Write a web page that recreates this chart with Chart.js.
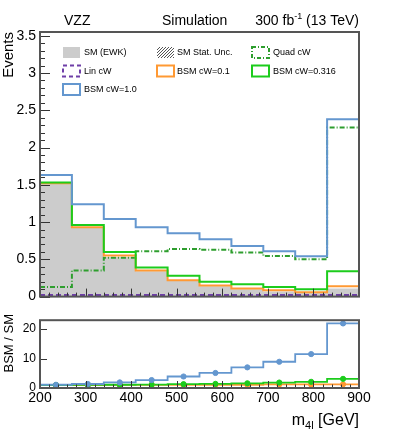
<!DOCTYPE html>
<html>
<head>
<meta charset="UTF-8">
<title>VZZ m4l</title>
<script src="https://cdn.jsdelivr.net/npm/chart.js"></script>
<style>
  html, body { margin: 0; padding: 0; background: #fff; }
  #wrap { position: relative; width: 399px; height: 442px; }
  #top { position: absolute; left: 0; top: 0; width: 399px; height: 309px; }
  #bot { position: absolute; left: 0; top: 309px; width: 399px; height: 133px; background: #fff; }
</style>
</head>
<body>
<div id="wrap">
  <canvas id="top" width="399" height="309"></canvas>
  <canvas id="bot" width="399" height="133"></canvas>
</div>
<script>
// bin edges of m4l [GeV]
const binEdges = [200, 270, 340, 410, 480, 550, 620, 690, 760, 830, 900];

// events per bin (top panel)
const smEwk   = [1.51, 0.92, 0.53, 0.34, 0.21, 0.14, 0.10, 0.07, 0.05, 0.11];
const linCW   = [0.02, 0.02, 0.02, 0.02, 0.02, 0.02, 0.02, 0.02, 0.02, 0.02];
const quadCW  = [0.13, 0.35, 0.52, 0.61, 0.64, 0.63, 0.59, 0.545, 0.50, 2.27];
const bsm01   = [1.52, 0.93, 0.55, 0.35, 0.22, 0.15, 0.11, 0.085, 0.06, 0.14];
const bsm0316 = [1.53, 0.96, 0.60, 0.39, 0.28, 0.20, 0.165, 0.13, 0.10, 0.34];
const bsm10   = [1.63, 1.24, 1.04, 0.93, 0.85, 0.77, 0.68, 0.61, 0.54, 2.38];

// BSM / SM ratio per bin (bottom panel)
const ratio01   = [1.0, 1.0, 1.04, 1.04, 1.05, 1.07, 1.1, 1.2, 1.2, 1.25];
const ratio0316 = [1.0, 1.05, 1.1, 1.15, 1.3, 1.4, 1.6, 1.85, 2.1, 3.1];
const ratio10   = [1.1, 1.35, 1.9, 2.7, 3.9, 5.1, 7.0, 8.9, 11.5, 21.9];

// tick labels
const yTicksTop = [0, 0.5, 1, 1.5, 2, 2.5, 3, 3.5];
const yTicksRatio = [0, 10, 20];
const xTicks = [200, 300, 400, 500, 600, 700, 800, 900];

const FONT = "'Liberation Sans', Arial, Helvetica, sans-serif";
Chart.defaults.font.family = FONT;
Chart.defaults.color = '#000';

const BLUE = '#6497cf', ORANGE = '#ff9933', GREEN = '#1ccc1c',
      QGREEN = '#2e9e2e', PURPLE = '#6f3fa8', GRAY = '#cccccc';

// step histogram points: one point per left edge plus the last right edge
function hist(vals) {
  const pts = vals.map((v, i) => ({ x: binEdges[i], y: v }));
  pts.push({ x: binEdges[vals.length], y: vals[vals.length - 1] });
  return pts;
}
function centers(vals) {
  return vals.map((v, i) => ({ x: (binEdges[i] + binEdges[i + 1]) / 2, y: v }));
}

// inward ROOT-like ticks and frame
function drawFrame(chart, cfg) {
  const { ctx, chartArea: a, scales: { x, y } } = chart;
  ctx.save();
  ctx.strokeStyle = '#333';
  ctx.lineWidth = 1;
  ctx.beginPath();
  const step = cfg.yMinor || cfg.yMajor;
  const ny = Math.floor((y.max - y.min) / step + 1e-6);
  for (let i = 0; i <= ny; i++) {
    const v = y.min + i * step;
    const major = Math.abs(v / cfg.yMajor - Math.round(v / cfg.yMajor)) < 1e-6;
    const len = major ? cfg.yLen : cfg.yLen / 2;
    const py = Math.round(y.getPixelForValue(v)) + 0.5;
    ctx.moveTo(a.left, py); ctx.lineTo(a.left + len, py);
  }
  const nx = Math.round((x.max - x.min) / cfg.xMinor);
  for (let i = 0; i <= nx; i++) {
    const v = x.min + i * cfg.xMinor;
    const major = (v % cfg.xMajor) === 0;
    const len = major ? cfg.xLen : cfg.xLen / 2;
    const px = Math.round(x.getPixelForValue(v)) + 0.5;
    ctx.moveTo(px, a.bottom); ctx.lineTo(px, a.bottom - len);
  }
  ctx.stroke();
  ctx.lineWidth = 2;
  ctx.strokeStyle = '#555';
  ctx.strokeRect(a.left, a.top, a.width, a.height);
  ctx.restore();
}

const legendItems = [
  { col: 0, row: 0, label: 'SM (EWK)', kind: 'fill', color: GRAY },
  { col: 1, row: 0, label: 'SM Stat. Unc.', kind: 'hatch' },
  { col: 2, row: 0, label: 'Quad cW', kind: 'box', color: QGREEN, dash: [4, 2, 1, 2] },
  { col: 0, row: 1, label: 'Lin cW', kind: 'box', color: PURPLE, dash: [4, 3] },
  { col: 1, row: 1, label: 'BSM cW=0.1', kind: 'box', color: ORANGE },
  { col: 2, row: 1, label: 'BSM cW=0.316', kind: 'box', color: GREEN },
  { col: 0, row: 2, label: 'BSM cW=1.0', kind: 'box', color: BLUE }
];

const topDecor = {
  id: 'topDecor',
  afterDatasetsDraw(chart) {
    drawFrame(chart, { yMajor: 0.5, yMinor: 0.1, yLen: 10, xMajor: 100, xMinor: 20, xLen: 8 });
  },
  afterDraw(chart) {
    const ctx = chart.ctx;
    ctx.save();
    ctx.fillStyle = '#000';
    ctx.textBaseline = 'alphabetic';
    ctx.font = '14px ' + FONT;
    ctx.textAlign = 'left';
    ctx.fillText('VZZ', 64, 25);
    ctx.fillText('Simulation', 162, 25);
    // 300 fb^-1 (13 TeV), right aligned
    const p1 = '300 fb', p3 = ' (13 TeV)';
    ctx.font = '14px ' + FONT; const w1 = ctx.measureText(p1).width, w3 = ctx.measureText(p3).width;
    ctx.font = '9px ' + FONT; const w2 = ctx.measureText('-1').width;
    let xs = 359 - (w1 + w2 + w3);
    ctx.font = '14px ' + FONT; ctx.fillText(p1, xs, 25);
    ctx.font = '9px ' + FONT; ctx.fillText('-1', xs + w1, 19);
    ctx.font = '14px ' + FONT; ctx.fillText(p3, xs + w1 + w2, 25);

    // y title
    ctx.save();
    ctx.translate(13, 32);
    ctx.rotate(-Math.PI / 2);
    ctx.textAlign = 'right';
    ctx.font = '15px ' + FONT;
    ctx.fillText('Events', 0, 0);
    ctx.restore();

    // legend
    const boxX = [63, 157, 252], textX = [84, 177, 273], rowY = [52.5, 71, 89.5];
    ctx.font = '9px ' + FONT;
    ctx.textBaseline = 'middle';
    legendItems.forEach(it => {
      const bx = boxX[it.col], cy = rowY[it.row], bw = 17, bh = 11, by = cy - bh / 2;
      if (it.kind === 'fill') {
        ctx.fillStyle = it.color;
        ctx.fillRect(bx, by, bw, bh);
      } else if (it.kind === 'hatch') {
        ctx.save();
        ctx.beginPath(); ctx.rect(bx, by, bw, bh); ctx.clip();
        ctx.strokeStyle = '#555'; ctx.lineWidth = 1;
        ctx.beginPath();
        for (let k = -bh; k < bw; k += 3) {
          ctx.moveTo(bx + k, by + bh); ctx.lineTo(bx + k + bh, by);
        }
        ctx.stroke();
        ctx.restore();
      } else {
        ctx.save();
        ctx.strokeStyle = it.color; ctx.lineWidth = 2;
        ctx.setLineDash(it.dash || []);
        ctx.strokeRect(bx, by, bw, bh);
        ctx.restore();
      }
      ctx.fillStyle = '#000';
      ctx.fillText(it.label, textX[it.col], cy + 0.5);
    });
    ctx.restore();
  }
};

const botDecor = {
  id: 'botDecor',
  afterDatasetsDraw(chart) {
    drawFrame(chart, { yMajor: 10, yMinor: 0, yLen: 7, xMajor: 100, xMinor: 20, xLen: 7 });
  },
  afterDraw(chart) {
    const ctx = chart.ctx;
    ctx.save();
    ctx.fillStyle = '#000';
    ctx.textBaseline = 'alphabetic';
    // y title
    ctx.save();
    ctx.translate(13, 5);
    ctx.rotate(-Math.PI / 2);
    ctx.textAlign = 'right';
    ctx.font = '13px ' + FONT;
    ctx.fillText('BSM / SM', 0, 0);
    ctx.restore();
    // x title m_4l [GeV]
    ctx.textAlign = 'left';
    ctx.font = '16px ' + FONT; const wm = ctx.measureText('m').width, wg = ctx.measureText(' [GeV]').width;
    ctx.font = '11px ' + FONT; const ws = ctx.measureText('4l').width;
    const x0 = 359 - (wm + ws + wg), base = 116;
    ctx.font = '16px ' + FONT; ctx.fillText('m', x0, base);
    ctx.font = '11px ' + FONT; ctx.fillText('4l', x0 + wm, base + 4);
    ctx.font = '16px ' + FONT; ctx.fillText(' [GeV]', x0 + wm + ws, base);
    ctx.restore();
  }
};

function stepLine(data, color, extra) {
  return Object.assign({
    data: hist(data), borderColor: color, borderWidth: 2, stepped: 'before',
    pointRadius: 0, fill: false
  }, extra || {});
}

const tickLabel = v => String(v);

new Chart(document.getElementById('top'), {
  type: 'line',
  data: {
    datasets: [
      stepLine(linCW, PURPLE, { borderDash: [5, 3] }),
      stepLine(bsm10, BLUE),
      stepLine(bsm0316, GREEN),
      stepLine(bsm01, ORANGE),
      stepLine(quadCW, QGREEN, { borderDash: [5, 2, 1, 2] }),
      stepLine(smEwk, GRAY, { borderWidth: 0, backgroundColor: GRAY, fill: 'origin' })
    ]
  },
  options: {
    responsive: false, animation: false,
    layout: { padding: { left: 0, right: 40, top: 32, bottom: 3 } },
    plugins: { legend: { display: false }, tooltip: { enabled: false } },
    scales: {
      x: { type: 'linear', min: 200, max: 900, display: false },
      y: {
        min: 0, max: 3.55,
        grid: { display: false, drawTicks: false }, border: { display: false },
        ticks: { padding: 4, font: { size: 14 }, color: '#000', callback: tickLabel },
        afterFit: s => { s.width = 40; },
        afterBuildTicks: s => { s.ticks = yTicksTop.map(v => ({ value: v })); }
      }
    }
  },
  plugins: [topDecor]
});

function ratioLine(data, color) {
  return { type: 'line', data: hist(data), borderColor: color, borderWidth: 1.8,
           stepped: 'before', pointRadius: 0, fill: false };
}
function ratioPts(data, color) {
  return { type: 'scatter', data: centers(data), backgroundColor: color, borderColor: color,
           pointRadius: 2.6, showLine: false };
}

new Chart(document.getElementById('bot'), {
  type: 'line',
  data: {
    datasets: [
      ratioPts(ratio10, BLUE), ratioPts(ratio0316, GREEN), ratioPts(ratio01, ORANGE),
      ratioLine(ratio10, BLUE), ratioLine(ratio0316, GREEN), ratioLine(ratio01, ORANGE)
    ]
  },
  options: {
    responsive: false, animation: false,
    layout: { padding: { left: 0, right: 40, top: 7, bottom: 0 } },
    plugins: { legend: { display: false }, tooltip: { enabled: false } },
    scales: {
      x: {
        type: 'linear', min: 200, max: 900,
        grid: { display: false, drawTicks: false }, border: { display: false },
        ticks: { padding: 2, font: { size: 14 }, color: '#000', maxRotation: 0, autoSkip: false, callback: tickLabel },
        afterFit: s => { s.height = 54; },
        afterBuildTicks: s => { s.ticks = xTicks.map(v => ({ value: v })); }
      },
      y: {
        min: 0, max: 23,
        grid: { display: false, drawTicks: false }, border: { display: false },
        ticks: { padding: 4, font: { size: 12 }, color: '#000', callback: tickLabel },
        afterFit: s => { s.width = 40; },
        afterBuildTicks: s => { s.ticks = yTicksRatio.map(v => ({ value: v })); }
      }
    }
  },
  plugins: [botDecor]
});
</script>
</body>
</html>
